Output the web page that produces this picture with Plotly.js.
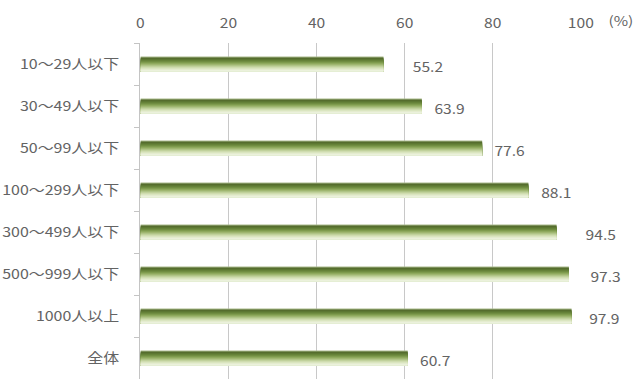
<!DOCTYPE html>
<html><head><meta charset="utf-8">
<script src="https://cdn.plot.ly/plotly-3.0.1.min.js"></script>
<style>
html,body{margin:0;padding:0;background:#fff;overflow:hidden;}
#wrap{width:639px;height:380px;overflow:hidden;}
#c{width:532.5px;height:380px;transform:scaleX(1.2);transform-origin:0 0;}
</style>
</head><body><div id="wrap"><div id="c"></div></div>
<script>
const categories = ["10～29人以下","30～49人以下","50～99人以下","100～299人以下","300～499人以下","500～999人以下","1000人以上","全体"];
const values = [55.2, 63.9, 77.6, 88.1, 94.5, 97.3, 97.9, 60.7];
const valueLabels = ["55.2","63.9","77.6","88.1","94.5","97.3","97.9","60.7"];
const xTicks = [0, 20, 40, 60, 80, 100];

// horizontal stretch of the whole figure (the reference is stretched)
const S = 1.2;
const W = 639 / S;
const plotL = 140 / S, plotR = 580 / S;

// label nudges in screen px (style only)
const labelNudge = [27, 10, 10, 10, 27, 19, 15, 10];

// vertical gradient rows of each bar, top to bottom
const shades = ["#a9ba8c","#52692b","#587330","#607c35","#6a873c","#779447","#86a255","#96af67","#a7bd7b","#b8cb91","#c8d7a6","#d5e1b8","#e0e9c8","#e8efd6","#eef3e1"];
const thick = 0.36;
const slice = thick / shades.length;
const traces = shades.map((col, i) => ({
  type: "bar", orientation: "h",
  y: categories, x: values,
  width: thick - i * slice, offset: -thick / 2 + i * slice,
  marker: {color: col, line: {width: 0}},
  hoverinfo: "skip", showlegend: false
}));

const FONT = "Noto Sans CJK JP, Noto Sans, sans-serif";
const TXT = "#636363";
const annotations = values.map((v, i) => ({
  x: v, y: categories[i], xref: "x", yref: "y",
  text: valueLabels[i], showarrow: false, xanchor: "left", yanchor: "middle",
  xshift: labelNudge[i] / S, yshift: -2,
  font: {family: FONT, size: 13, color: TXT}
}));
annotations.push({
  x: (620 / S - plotL) / (plotR - plotL), y: 1 + (43 - 20) / 336,
  xref: "paper", yref: "paper", text: "(%)", showarrow: false,
  xanchor: "center", yanchor: "middle",
  font: {family: FONT, size: 13, color: TXT}
});

const layout = {
  width: W, height: 380,
  margin: {l: plotL, r: W - plotR, t: 43, b: 1, pad: 0},
  paper_bgcolor: "#fff", plot_bgcolor: "#fff",
  barmode: "overlay",
  xaxis: {
    side: "top", range: [0, 100], tickvals: xTicks, ticktext: xTicks.map(String),
    showgrid: true, gridcolor: "#c8c8c8", gridwidth: 1, zeroline: false,
    showline: false, ticks: "", ticklabelstandoff: 11,
    tickfont: {family: FONT, size: 13, color: TXT},
    fixedrange: true
  },
  yaxis: {
    type: "category", autorange: "reversed",
    showline: true, linecolor: "#c4c4c4", linewidth: 1,
    ticks: "outside", tickson: "boundaries", ticklen: 4, tickcolor: "#c4c4c4",
    showgrid: false, zeroline: false, ticklabelstandoff: 14,
    tickfont: {family: FONT, size: 13.3, color: TXT},
    fixedrange: true
  },
  annotations: annotations,
  showlegend: false
};
Plotly.newPlot("c", traces, layout, {staticPlot: true, displayModeBar: false});
</script></body></html>
